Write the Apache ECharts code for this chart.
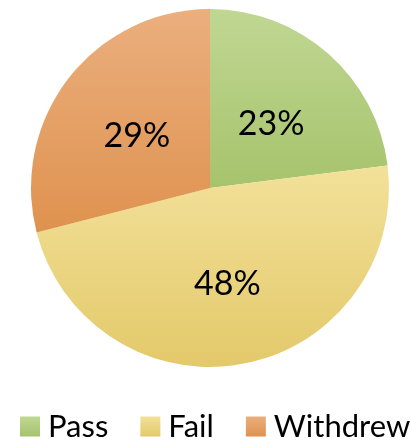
<!DOCTYPE html>
<html>
<head>
<meta charset="utf-8">
<style>
  html, body { margin: 0; padding: 0; background: #fff; }
  #chart { width: 411px; height: 440px; }
</style>
<script src="https://cdn.jsdelivr.net/npm/echarts@6/dist/echarts.min.js"></script>
</head>
<body>
<div id="chart"></div>
<script>
// Outcome shares (percent)
const categories = ['Pass', 'Fail', 'Withdrew'];
const shares = [23, 48, 29];
// Top / bottom colours of each slice's vertical gradient
const topColors = ['#c0d793', '#f3e19a', '#ebaf7e'];
const bottomColors = ['#a6c36c', '#e3c96a', '#df924f'];

function grad(i) {
  return new echarts.graphic.LinearGradient(0, 0, 0, 1, [
    { offset: 0, color: topColors[i] },
    { offset: 1, color: bottomColors[i] }
  ]);
}

const chart = echarts.init(document.getElementById('chart'), null, { renderer: 'canvas' });
chart.setOption({
  animation: false,
  backgroundColor: '#fff',
  legend: {
    data: categories,
    left: 20,
    top: 407,
    padding: 0,
    icon: 'rect',
    itemWidth: 20,
    itemHeight: 20,
    itemGap: 32,
    textStyle: {
      fontFamily: 'Lato',
      fontSize: 31,
      lineHeight: 31,
      color: '#000',
      padding: [0, 0, 8, 3]
    }
  },
  series: [{
    type: 'pie',
    center: [210, 188],
    radius: 179,
    startAngle: 90,
    clockwise: true,
    avoidLabelOverlap: false,
    label: {
      show: true,
      position: 'inside',
      formatter: '{c}%',
      fontFamily: 'Lato',
      fontSize: 34,
      color: '#000',
      offset: [0, 5]
    },
    labelLine: { show: false },
    emphasis: { disabled: true },
    itemStyle: { borderWidth: 0 },
    data: categories.map((name, i) => ({
      name: name,
      value: shares[i],
      itemStyle: { color: grad(i) }
    }))
  }]
});
</script>
</body>
</html>
